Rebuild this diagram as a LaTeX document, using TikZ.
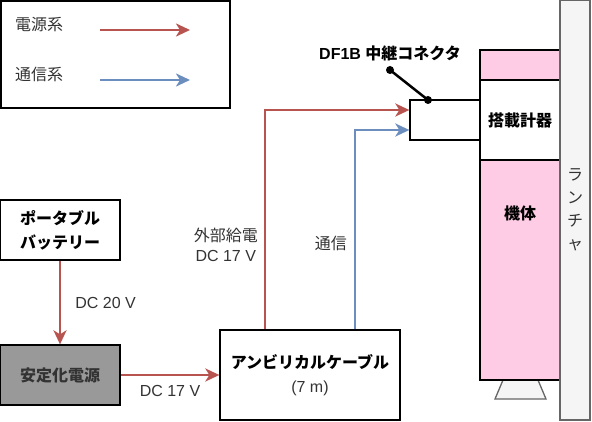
\documentclass[tikz,border=0pt]{standalone}
\usepackage{fontspec}
\setmainfont{Liberation Sans}
\newfontfamily\jpfont{Noto Sans CJK JP}
\usetikzlibrary{arrows.meta,positioning}
\definecolor{pwr}{HTML}{B85450}
\definecolor{sig}{HTML}{6C8EBF}
\definecolor{pinkbox}{HTML}{FFCCE6}
\definecolor{railgray}{HTML}{F5F5F5}
\definecolor{edgegray}{HTML}{666666}
\definecolor{psgray}{HTML}{999999}
\definecolor{txtgray}{HTML}{333333}
\tikzset{
  unit/.style={draw,line width=1.3pt,inner sep=0pt,align=center},
  pwrline/.style={pwr,line width=2.7pt,-{Stealth[length=14pt,width=13pt,inset=4pt]}},
  sigline/.style={sig,line width=2.7pt,-{Stealth[length=14pt,width=13pt,inset=4pt]}},
  lbl/.style={text=txtgray,font=\fontsize{16}{20}\selectfont,inner sep=0pt,align=center},
  blbl/.style={text=black,font=\fontsize{16}{24}\selectfont\bfseries,inner sep=0pt,align=center}
}
\begin{document}
\begin{tikzpicture}[x=1pt,y=-1pt]
\useasboundingbox (0,0) rectangle (592,422);

\draw[line width=1.3pt] (1,1) rectangle (230,108);
\node[lbl,anchor=west] (lgpwr) at (15,25) {\jpfont 電源系};
\node[lbl,anchor=west] (lgsig) at (15,74) {\jpfont 通信系};
\coordinate (lgpwrA) at (100,30);
\coordinate (lgpwrB) at (190,30);
\coordinate (lgsigA) at (100,80);
\coordinate (lgsigB) at (190,80);
\draw[pwrline] (lgpwrA) -- (lgpwrB);
\draw[sigline] (lgsigA) -- (lgsigB);

\node[unit,blbl,minimum width=120pt,minimum height=60pt] (battery) at (60,230) {\jpfont ポータブル\\\jpfont バッテリー};
\node[unit,blbl,fill=psgray,text=txtgray,minimum width=120pt,minimum height=60pt] (stab) at (60,375) {\jpfont 安定化電源};
\node[unit,blbl,font=\fontsize{16}{24}\selectfont,minimum width=180pt,minimum height=90pt] (cable) at (310,375) {{\jpfont\bfseries アンビリカルケーブル}\\{\color{txtgray}(7 m)}};

\fill[railgray,draw=edgegray,line width=1.3pt] (495,399) -- (503,380) -- (538,380) -- (546,399) -- cycle;
\node[unit,fill=pinkbox,minimum width=80pt,minimum height=30pt] (ptop) at (520,65) {};
\node[unit,blbl,minimum width=80pt,minimum height=80pt] (payload) at (520,120) {\jpfont 搭載計器};
\node[unit,fill=pinkbox,minimum width=80pt,minimum height=220pt] (body) at (520,270) {};
\node[blbl] (bodylbl) at (520,213) {\jpfont 機体};
\node[unit,lbl,font=\fontsize{16}{23}\selectfont,fill=railgray,draw=edgegray,minimum width=30pt,minimum height=420pt] (launcher) at (575,210) {\jpfont ラ\\\jpfont ン\\\jpfont チ\\\jpfont ャ};
\node[unit,minimum width=70pt,minimum height=40pt] (conn) at (445,120) {};

\draw[pwrline] (battery) -- (stab) node[midway,right=14pt,lbl] {DC 20 V};
\draw[pwrline] (stab) -- (cable) node[midway,below=9pt,lbl] {DC 17 V};
\draw[pwrline] (cable.north -| 265,0) |- (conn.west |- 0,110);
\draw[sigline] (cable.north -| 355,0) |- (conn.west |- 0,130);
\node[lbl,anchor=east] (extpwr) at (258,245) {\jpfont 外部給電\\DC 17 V};
\node[lbl,anchor=east] (comm) at (347,243) {\jpfont 通信};

\node[blbl] (connlbl) at (390,53) {DF1B {\jpfont 中継コネクタ}};
\coordinate (dotA) at (390,70);
\coordinate (dotB) at (428,100);
\draw[line width=2.5pt] (dotA) -- (dotB);
\fill (dotA) circle (4pt) (dotB) circle (4pt);

\end{tikzpicture}
\end{document}
